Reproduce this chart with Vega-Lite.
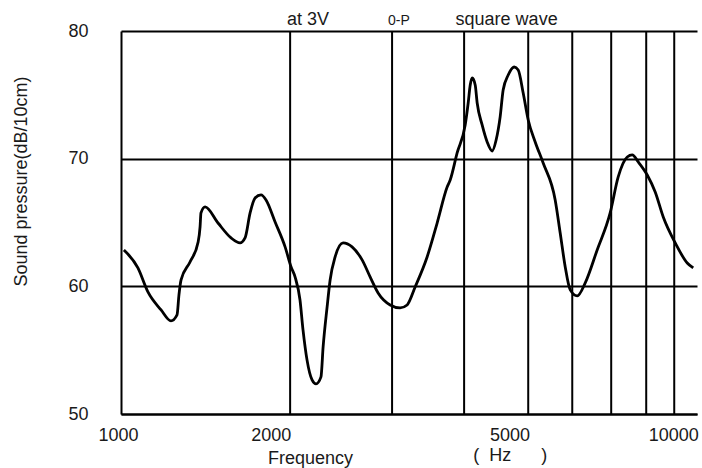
{
  "$schema": "https://vega.github.io/schema/vega-lite/v6.json",
  "width": 576,
  "height": 383,
  "autosize": {"type": "none"},
  "padding": {"left": 121, "top": 31, "right": 5, "bottom": 54},
  "config": {
    "view": {"stroke": null},
    "font": "Liberation Sans",
    "text": {"font": "Liberation Sans", "color": "#1a1a1a"}
  },
  "datasets": {
    "curve": [
      {"f": 1012, "db": 62.85}, {"f": 1072, "db": 61.44}, {"f": 1117, "db": 59.56}, {"f": 1179, "db": 58.15},
      {"f": 1228, "db": 57.29}, {"f": 1259, "db": 57.76}, {"f": 1269, "db": 59.33}, {"f": 1280, "db": 60.5},
      {"f": 1328, "db": 61.91}, {"f": 1373, "db": 63.48}, {"f": 1384, "db": 64.65}, {"f": 1389, "db": 65.75},
      {"f": 1413, "db": 66.22}, {"f": 1490, "db": 64.96}, {"f": 1572, "db": 63.79}, {"f": 1631, "db": 63.4},
      {"f": 1665, "db": 63.79}, {"f": 1700, "db": 65.75}, {"f": 1735, "db": 66.92}, {"f": 1778, "db": 67.16},
      {"f": 1815, "db": 66.77}, {"f": 1884, "db": 65.04}, {"f": 1963, "db": 63.09}, {"f": 2012, "db": 61.52},
      {"f": 2045, "db": 60.74}, {"f": 2087, "db": 58.93}, {"f": 2113, "db": 56.59}, {"f": 2148, "db": 54.24},
      {"f": 2193, "db": 52.67}, {"f": 2229, "db": 52.36}, {"f": 2275, "db": 52.91}, {"f": 2295, "db": 55.25},
      {"f": 2333, "db": 58.39}, {"f": 2362, "db": 60.5}, {"f": 2411, "db": 62.3}, {"f": 2491, "db": 63.4},
      {"f": 2585, "db": 63.09}, {"f": 2694, "db": 62.07}, {"f": 2784, "db": 60.74}, {"f": 2877, "db": 59.48},
      {"f": 3023, "db": 58.54}, {"f": 3149, "db": 58.31}, {"f": 3241, "db": 58.54}, {"f": 3350, "db": 59.95},
      {"f": 3519, "db": 62.3}, {"f": 3667, "db": 64.96}, {"f": 3821, "db": 67.78}, {"f": 3869, "db": 68.33},
      {"f": 3981, "db": 70.45}, {"f": 4115, "db": 72.64}, {"f": 4166, "db": 74.36}, {"f": 4201, "db": 75.77},
      {"f": 4236, "db": 76.32}, {"f": 4288, "db": 75.77}, {"f": 4323, "db": 74.36}, {"f": 4412, "db": 72.64},
      {"f": 4504, "db": 71.31}, {"f": 4597, "db": 70.6}, {"f": 4673, "db": 71.46}, {"f": 4751, "db": 73.27},
      {"f": 4810, "db": 75.38}, {"f": 4911, "db": 76.55}, {"f": 5033, "db": 77.18}, {"f": 5117, "db": 76.95},
      {"f": 5223, "db": 75.14}, {"f": 5332, "db": 73.03}, {"f": 5487, "db": 71.31}, {"f": 5670, "db": 69.66},
      {"f": 5957, "db": 66.77}, {"f": 6081, "db": 64.18}, {"f": 6208, "db": 61.52}, {"f": 6337, "db": 59.72},
      {"f": 6522, "db": 59.25}, {"f": 6740, "db": 60.27}, {"f": 7079, "db": 62.85}, {"f": 7467, "db": 65.75},
      {"f": 7718, "db": 68.57}, {"f": 8010, "db": 70.13}, {"f": 8176, "db": 70.29}, {"f": 8381, "db": 69.74},
      {"f": 8697, "db": 68.72}, {"f": 8986, "db": 67.39}, {"f": 9288, "db": 65.43}, {"f": 9757, "db": 63.4},
      {"f": 10250, "db": 61.83}, {"f": 10506, "db": 61.44}
    ],
    "vlines": [
      {"f": 2004, "lo": 50, "hi": 80}, {"f": 3047, "lo": 50, "hi": 80}, {"f": 4097, "lo": 50, "hi": 80},
      {"f": 5332, "lo": 50, "hi": 80}, {"f": 6390, "lo": 50, "hi": 80}, {"f": 7499, "lo": 50, "hi": 80},
      {"f": 8660, "lo": 50, "hi": 80}, {"f": 9717, "lo": 50, "hi": 80}
    ],
    "notes": [
      {"label": "at 3V", "f": 2157, "db": 80.47, "kind": "big"},
      {"label": "square wave", "f": 4879, "db": 80.47, "kind": "big"},
      {"label": "0-P", "f": 3134, "db": 80.47, "kind": "small"},
      {"label": "(\u00a0\u00a0Hz\u00a0\u00a0\u00a0\u00a0\u00a0\u00a0)", "f": 4253, "db": 46.3, "kind": "unit"}
    ]
  },
  "encoding": {
    "x": {
      "field": "f",
      "type": "quantitative",
      "scale": {"type": "log", "domain": [1000, 10670], "nice": false},
      "axis": {
        "values": [1000, 2000, 5000, 10000],
        "format": "d",
        "grid": false,
        "ticks": false,
        "domain": true,
        "domainColor": "black",
        "domainWidth": 2,
        "labelFont": "Liberation Sans",
        "labelFontSize": 18,
        "labelColor": "#1a1a1a",
        "labelPadding": 12,
        "labelFlush": false,
        "labelOffset": {"expr": "datum.value == 2000 ? -19 : datum.value == 10000 ? -8 : -3"},
        "title": "Frequency",
        "titleFont": "Liberation Sans",
        "titleFontSize": 18,
        "titleFontWeight": "normal",
        "titleColor": "#1a1a1a",
        "titleAnchor": null,
        "titleX": 189,
        "titleY": 49,
        "titleAlign": "center",
        "titleBaseline": "alphabetic"
      }
    },
    "y": {
      "field": "db",
      "type": "quantitative",
      "scale": {"domain": [50, 80], "nice": false, "zero": false},
      "axis": {
        "values": [50, 60, 70, 80],
        "grid": true,
        "gridColor": "black",
        "gridWidth": 2,
        "gridOpacity": 1,
        "ticks": false,
        "domain": true,
        "domainColor": "black",
        "domainWidth": 2,
        "labelFont": "Liberation Sans",
        "labelFontSize": 18,
        "labelColor": "#1a1a1a",
        "labelPadding": 33,
        "title": "Sound pressure(dB/10cm)",
        "titleFont": "Liberation Sans",
        "titleFontSize": 18,
        "titleFontWeight": "normal",
        "titleColor": "#1a1a1a",
        "titleAnchor": null,
        "titleAngle": 270,
        "titleX": -100,
        "titleY": 150,
        "titleAlign": "center",
        "titleBaseline": "middle"
      }
    }
  },
  "layer": [
    {
      "data": {"name": "vlines"},
      "mark": {"type": "rule", "color": "black", "strokeWidth": 2},
      "encoding": {
        "y": {"field": "lo", "type": "quantitative"},
        "y2": {"field": "hi"}
      }
    },
    {
      "data": {"name": "curve"},
      "mark": {"type": "line", "color": "black", "strokeWidth": 2.8, "interpolate": "monotone"}
    },
    {
      "data": {"name": "notes"},
      "transform": [{"filter": "datum.kind == 'big'"}],
      "mark": {"type": "text", "fontSize": 18, "align": "center", "baseline": "alphabetic"},
      "encoding": {"text": {"field": "label"}}
    },
    {
      "data": {"name": "notes"},
      "transform": [{"filter": "datum.kind == 'small'"}],
      "mark": {"type": "text", "fontSize": 14, "align": "center", "baseline": "alphabetic"},
      "encoding": {"text": {"field": "label"}}
    },
    {
      "data": {"name": "notes"},
      "transform": [{"filter": "datum.kind == 'unit'"}],
      "mark": {"type": "text", "fontSize": 18, "align": "left", "baseline": "alphabetic"},
      "encoding": {"text": {"field": "label"}}
    }
  ]
}
